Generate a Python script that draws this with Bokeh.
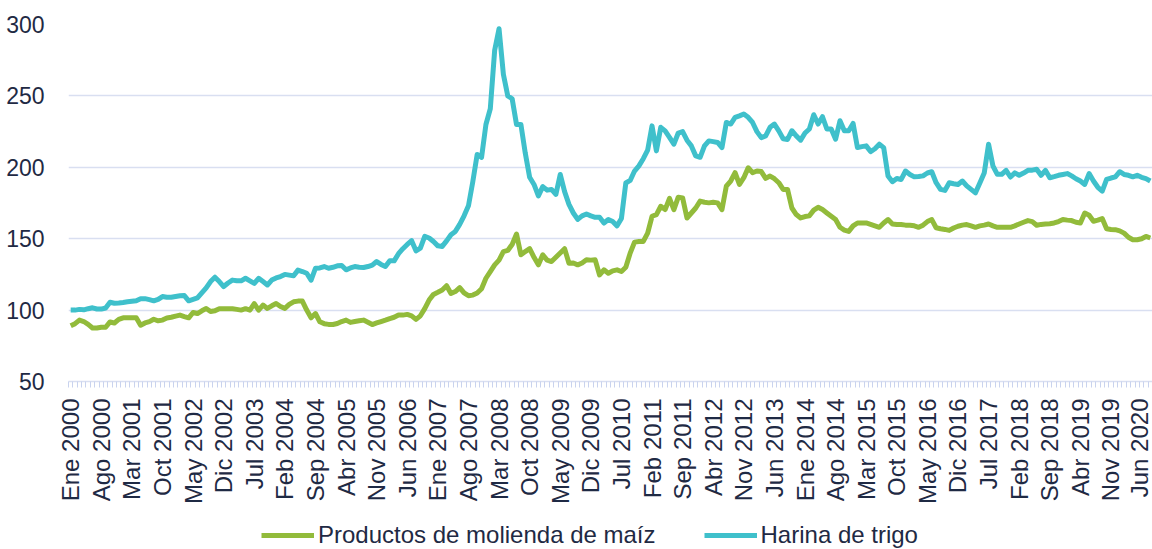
import math
from bokeh.plotting import figure
from bokeh.layouts import column
from bokeh.models import FixedTicker, Legend, LegendItem, Range1d
from bokeh.embed import file_html
from bokeh.resources import INLINE

# Monthly index values, Ene 2000 .. Ago 2020
corn = [
    89, 90.5, 93, 92, 90, 87.5, 87.5, 88, 88, 91.7, 91, 93.5,
    94.6, 94.6, 94.6, 94.6, 89.4, 91, 91.9, 93.6, 92.5, 93, 94.5, 95,
    95.8, 96.5, 95.5, 94.6, 98.3, 97.6, 99.5, 101.1, 99, 99.5, 101, 101,
    101, 101, 100.5, 100, 101, 100, 104.6, 100, 103.5, 101.2, 103, 104.6,
    102.5, 101.2, 104, 105.8, 106.3, 106.3, 100, 94.6, 97.6, 91.8, 90.5, 90,
    89.9, 90.6, 92, 93, 91.4, 92, 92.5, 93, 91.5, 89.9, 91, 92,
    93, 94.1, 95, 96.5, 96.5, 97, 96, 93.5, 96, 101, 107, 111,
    112.5, 114.1, 117.1, 111.7, 113, 115.7, 112, 110.1, 110.5, 112, 115, 122.3,
    127, 131.7, 135, 141, 141.8, 146, 153.3, 138.7, 141, 143, 137, 131.7,
    138.7, 135, 134, 137, 140, 143, 132.8, 133, 131.7, 133, 135.2, 135,
    135.2, 124.6, 128.2, 125.8, 127.5, 128.2, 127, 130, 139.9, 147.6, 148, 148.1,
    153.9, 165.7, 166.9, 172.7, 170.4, 178.2, 170.4, 179.1, 178.6, 164.5, 168, 171.5,
    176.3, 175.5, 175.1, 175.5, 175.1, 170.4, 186.8, 190.4, 196.2, 188, 192.7, 199.7,
    196.2, 197.4, 197, 192.2, 193.9, 192, 189.2, 184.5, 184.5, 171.5, 166.9, 164.5,
    165.5, 166, 170, 172, 170.4, 168, 165.7, 163.4, 158, 156, 155.1, 159,
    161, 161, 161, 160, 159, 158, 161, 163.4, 160.3, 160, 159.9, 159.5,
    159.4, 159, 158, 159.5, 162, 163.4, 157.7, 157, 156.5, 155.8, 157.5, 158.7,
    159.5, 159.9, 159, 158, 159, 159.5, 160.3, 159, 158, 158, 158, 158,
    159, 160.3, 161.5, 162.7, 162, 159.4, 160, 160.3, 160.5, 161, 162, 163.4,
    163, 162.7, 161.5, 161, 168, 166.4, 162.2, 163, 164.1, 157, 156.5, 156.3,
    155.5, 153.9, 151, 149.3, 149.3, 150, 151.6, 150.5,
]

wheat = [
    100, 100, 100.5, 100.2, 101, 101.6, 100.8, 100.7, 101.5, 105.5, 104.8, 105,
    105.3, 105.8, 106.2, 106.6, 108, 108, 107.3, 106.5, 107.5, 109.5, 109, 109,
    109.5, 110, 110.2, 106.5, 107.5, 108.5, 112, 115.5, 120, 123, 120, 116.5,
    119, 121, 120.5, 120.5, 122.3, 120.5, 118.7, 122.3, 120, 117.6, 121, 122.5,
    123.5, 125, 124.5, 124, 128, 127, 125.8, 121, 129.3, 129.5, 130.5, 129.3,
    130, 131, 131.2, 128.2, 129.5, 130.5, 130, 129.8, 130.5, 131.5, 134, 132,
    130.5, 134.5, 134.5, 139.5, 143, 146, 148.6, 141.5, 143.4, 151.6, 150.5, 148,
    145, 144.6, 148.5, 152.8, 155.1, 160, 166, 173, 190, 209, 207, 230,
    241, 282, 297, 265, 250, 248, 230, 230, 210, 193, 188, 180,
    186.5, 184, 184.5, 181, 195, 183, 174, 168, 163.5, 166, 167.3, 166,
    165, 165, 161, 163.4, 162, 159, 164.2, 189, 190.8, 197.4, 201, 206,
    212, 229, 211.5, 228, 225.5, 221, 216.2, 224, 225, 219, 215, 208,
    207, 215, 218.5, 218, 217.4, 213.8, 231.4, 230.3, 234.9, 236, 237.3, 235,
    231.4, 225, 220.8, 222, 228, 230.3, 225.5, 220, 219.5, 225.6, 222, 219,
    224, 226.8, 236.8, 230.3, 235.4, 226.8, 226.8, 219.7, 232.6, 225.6, 225.6, 230.7,
    213.8, 214.5, 215, 211, 213, 216.2, 213.8, 193.9, 189.9, 192.2, 191.5, 197.4,
    195, 193.3, 193.5, 194, 196, 196.9, 189.2, 184.5, 183.8, 189.2, 188.5, 188,
    190.4, 187, 184.5, 182.1, 189, 196, 216.2, 200.9, 195.1, 195.1, 197.9, 193.2,
    196.1, 194.4, 196, 197.9, 198, 198.6, 194.4, 197.9, 192.7, 193.5, 194.4, 195,
    195.6, 194, 192, 190.4, 188, 195.6, 190.4, 186, 183.3, 191.5, 192.5, 193.3,
    196.9, 195, 194.4, 193.3, 194.4, 193, 192.1, 190.4,
]

tick_labels = [
    "Ene 2000", "Ago 2000", "Mar 2001", "Oct 2001", "May 2002", "Dic 2002",
    "Jul 2003", "Feb 2004", "Sep 2004", "Abr 2005", "Nov 2005", "Jun 2006",
    "Ene 2007", "Ago 2007", "Mar 2008", "Oct 2008", "May 2009", "Dic 2009",
    "Jul 2010", "Feb 2011", "Sep 2011", "Abr 2012", "Nov 2012", "Jun 2013",
    "Ene 2014", "Ago 2014", "Mar 2015", "Oct 2015", "May 2016", "Dic 2016",
    "Jul 2017", "Feb 2018", "Sep 2018", "Abr 2019", "Nov 2019", "Jun 2020",
]
label_step = 7
y_ticks = [50, 100, 150, 200, 250, 300]

series_names = ["Productos de molienda de maíz", "Harina de trigo"]
colors = ["#92BB3B", "#3FC0CB"]

FONT = "Liberation Sans"
TEXT = "#1F2A44"
GRID = "#D9DFF1"

n = len(wheat)
x = list(range(n))

p = figure(
    width=1152, height=519,
    x_range=Range1d(-0.5, n - 0.5), y_range=Range1d(50, 300),
    output_backend="svg", toolbar_location=None,
    min_border_left=68, min_border_right=0, min_border_top=24, min_border_bottom=138,
)
p.outline_line_color = None
p.background_fill_color = "white"
p.border_fill_color = "white"

p.line(x, corn, line_color=colors[0], line_width=5, line_join="round")
p.line(x, wheat, line_color=colors[1], line_width=5, line_join="round")

# y axis
p.yaxis.ticker = FixedTicker(ticks=y_ticks)
p.yaxis.axis_line_color = None
p.yaxis.major_tick_line_color = None
p.yaxis.minor_tick_line_color = None
p.yaxis.major_label_text_font = FONT
p.yaxis.major_label_text_font_size = "23px"
p.yaxis.major_label_text_color = TEXT
p.yaxis.major_label_standoff = 18
p.ygrid.ticker = FixedTicker(ticks=y_ticks)
p.ygrid.grid_line_color = GRID
p.ygrid.grid_line_width = 1.5

# x axis
major = [i * label_step for i in range(len(tick_labels))]
minor = [i - 0.5 for i in range(n + 1)]
p.xaxis.ticker = FixedTicker(ticks=major, minor_ticks=minor)
p.xaxis.major_label_overrides = {m: lab for m, lab in zip(major, tick_labels)}
p.xaxis.major_label_orientation = math.pi / 2
p.xaxis.major_label_text_font = FONT
p.xaxis.major_label_text_font_size = "24px"
p.xaxis.major_label_text_color = TEXT
p.xaxis.major_label_standoff = 11
p.xaxis.axis_line_color = GRID
p.xaxis.axis_line_width = 1.5
p.xaxis.major_tick_line_color = None
p.xaxis.major_tick_out = 0
p.xaxis.major_tick_in = 0
p.xaxis.minor_tick_line_color = "#C9D3EE"
p.xaxis.minor_tick_out = 6
p.xaxis.minor_tick_in = 0
p.xgrid.grid_line_color = None

# legend strip below the chart
pl = figure(
    width=1152, height=30,
    x_range=Range1d(-0.5, n - 0.5), y_range=Range1d(1000, 1001),
    output_backend="svg", toolbar_location=None,
    min_border_left=0, min_border_right=0, min_border_top=0, min_border_bottom=0,
)
pl.axis.visible = False
pl.grid.visible = False
pl.outline_line_color = None
lc = pl.line(x, corn, line_color=colors[0], line_width=5)
lw = pl.line(x, wheat, line_color=colors[1], line_width=5)

legend = Legend(
    items=[LegendItem(label=series_names[0], renderers=[lc]),
           LegendItem(label=series_names[1], renderers=[lw])],
    location=(193, 0), orientation="horizontal",
    glyph_width=53, glyph_height=24, label_standoff=4, spacing=48,
    padding=0, margin=0, border_line_color=None, background_fill_alpha=0,
    label_text_font=FONT, label_text_font_size="24px", label_text_color=TEXT,
)
pl.add_layout(legend, "center")

layout = column(p, pl, spacing=0)
open("out.html", "w").write(file_html(layout, INLINE))
